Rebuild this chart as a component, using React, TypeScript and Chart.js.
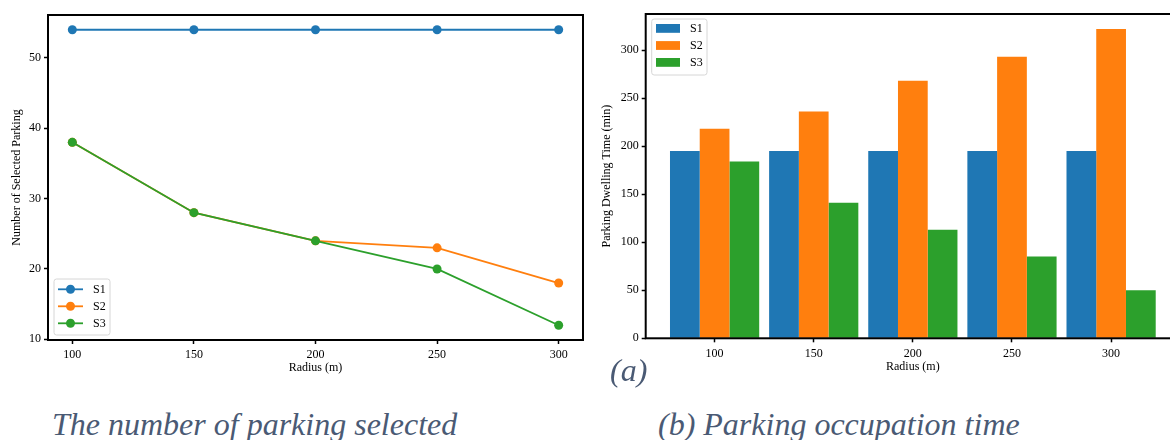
import React, { useEffect, useRef } from "react";
import { Chart, registerables } from "chart.js";

Chart.register(...registerables);

// ---- data ----
const radii = [100, 150, 200, 250, 300];
const seriesNames = ["S1", "S2", "S3"];
const seriesColors = ["#1f77b4", "#ff7f0e", "#2ca02c"];
const selectedS1 = [54, 54, 54, 54, 54];
const selectedS2 = [38, 28, 24, 23, 18];
const selectedS3 = [38, 28, 24, 20, 12];
const dwellS1 = [195, 195, 195, 195, 195];
const dwellS2 = [218, 236, 268, 293, 322];
const dwellS3 = [184, 141, 113, 85, 50];
const leftYTicks = [10, 20, 30, 40, 50];
const rightYTicks = [0, 50, 100, 150, 200, 250, 300];
const xTickValues = [100, 150, 200, 250, 300];
const captionA = "The number of parking selected";
const captionB = "(b) Parking occupation time";
const captionSub = "(a)";

const FONT = "'Liberation Serif', 'Times New Roman', serif";

const framePlugin = {
  id: "frame",
  afterDatasetsDraw(chart: any, _args: any, opts: any) {
    const { ctx, chartArea: a } = chart;
    ctx.save();
    ctx.strokeStyle = "#000";
    ctx.lineWidth = 2;
    ctx.strokeRect(a.left, a.top, a.right - a.left, a.bottom - a.top);
    ctx.restore();
  },
  afterDraw(chart: any, _args: any, opts: any) {
    const { ctx, chartArea: a } = chart;
    ctx.save();
    ctx.fillStyle = "#000";
    ctx.font = `12px ${FONT}`;
    ctx.textAlign = "center";
    ctx.textBaseline = "middle";
    // x title
    ctx.fillText(opts.xTitle, (a.left + a.right) / 2, opts.xTitleY);
    // y title
    ctx.save();
    ctx.translate(opts.yTitleX, (a.top + a.bottom) / 2);
    ctx.rotate(-Math.PI / 2);
    ctx.fillText(opts.yTitle, 0, 0);
    ctx.restore();

    // legend
    const lg = opts.legend;
    const w = lg.x1 - lg.x0;
    const h = lg.y1 - lg.y0;
    ctx.beginPath();
    const r = 2.5;
    ctx.moveTo(lg.x0 + r, lg.y0);
    ctx.arcTo(lg.x1, lg.y0, lg.x1, lg.y1, r);
    ctx.arcTo(lg.x1, lg.y1, lg.x0, lg.y1, r);
    ctx.arcTo(lg.x0, lg.y1, lg.x0, lg.y0, r);
    ctx.arcTo(lg.x0, lg.y0, lg.x1, lg.y0, r);
    ctx.closePath();
    ctx.fillStyle = "rgba(255,255,255,0.8)";
    ctx.fill();
    ctx.strokeStyle = "#d6d6d6";
    ctx.lineWidth = 1;
    ctx.stroke();
    ctx.textAlign = "left";
    seriesNames.forEach((name, i) => {
      const cy = lg.rows[i];
      const c = seriesColors[i];
      if (lg.kind === "line") {
        ctx.strokeStyle = c;
        ctx.lineWidth = 1.8;
        ctx.beginPath();
        ctx.moveTo(lg.hx0, cy);
        ctx.lineTo(lg.hx1, cy);
        ctx.stroke();
        ctx.fillStyle = c;
        ctx.beginPath();
        ctx.arc((lg.hx0 + lg.hx1) / 2, cy, 4.5, 0, Math.PI * 2);
        ctx.fill();
      } else {
        ctx.fillStyle = c;
        ctx.fillRect(lg.hx0, cy - 4.4, lg.hx1 - lg.hx0, 8.8);
      }
      ctx.fillStyle = "#000";
      ctx.fillText(name, lg.tx, cy + 0.5);
    });
    ctx.restore();
  },
};

const tickGrid = {
  display: true,
  drawOnChartArea: false,
  drawTicks: true,
  tickLength: 4,
  tickColor: "#000",
  tickWidth: 1.5,
  offset: false,
};

function LeftChart() {
  const ref = useRef<HTMLCanvasElement | null>(null);
  useEffect(() => {
    const vals = [selectedS1, selectedS2, selectedS3];
    const chart = new Chart(ref.current as HTMLCanvasElement, {
      type: "line",
      data: {
        datasets: vals.map((v, i) => ({
          label: seriesNames[i],
          data: radii.map((r, j) => ({ x: r, y: v[j] })),
          borderColor: seriesColors[i],
          backgroundColor: seriesColors[i],
          pointBackgroundColor: seriesColors[i],
          pointBorderWidth: 0,
          pointRadius: 4.5,
          borderWidth: 1.8,
          tension: 0,
          fill: false,
          order: 3 - i,
        })),
      },
      options: {
        responsive: false,
        animation: false,
        events: [],
        layout: { padding: { top: 15, right: 17, left: 0, bottom: 0 } },
        plugins: {
          legend: { display: false },
          tooltip: { enabled: false },
          frame: {
            xTitle: "Radius (m)",
            yTitle: "Number of Selected Parking",
            xTitleY: 368,
            yTitleX: 17,
            legend: {
              kind: "line",
              x0: 54, x1: 110, y0: 279, y1: 335,
              hx0: 58, hx1: 83, tx: 93,
              rows: [289.3, 306.3, 323.3],
            },
          },
        } as any,
        scales: {
          x: {
            type: "linear",
            min: 90,
            max: 310,
            afterBuildTicks: (s: any) => { s.ticks = xTickValues.map((v) => ({ value: v })); },
            afterFit: (s: any) => { s.height = 40; },
            grid: tickGrid as any,
            border: { display: false },
            ticks: { color: "#000", font: { family: FONT, size: 12 }, padding: 4, maxRotation: 0, autoSkip: false },
          },
          y: {
            type: "linear",
            min: 9.9,
            max: 56.1,
            afterBuildTicks: (s: any) => { s.ticks = leftYTicks.map((v) => ({ value: v })); },
            afterFit: (s: any) => { s.width = 48; },
            grid: tickGrid as any,
            border: { display: false },
            ticks: { color: "#000", font: { family: FONT, size: 12 }, padding: 3 },
          },
        },
      },
      plugins: [framePlugin],
    });
    return () => chart.destroy();
  }, []);
  return (
    <canvas
      ref={ref}
      width={600}
      height={380}
      style={{ position: "absolute", left: 0, top: 0, width: 600, height: 380 }}
    />
  );
}

function RightChart() {
  const ref = useRef<HTMLCanvasElement | null>(null);
  useEffect(() => {
    const vals = [dwellS1, dwellS2, dwellS3];
    const chart = new Chart(ref.current as HTMLCanvasElement, {
      type: "bar",
      data: {
        datasets: vals.map((v, i) => ({
          label: seriesNames[i],
          data: radii.map((r, j) => ({ x: r, y: v[j] })),
          backgroundColor: seriesColors[i],
          borderWidth: 0,
          categoryPercentage: 0.9,
          barPercentage: 1.0,
        })),
      },
      options: {
        responsive: false,
        animation: false,
        events: [],
        layout: { padding: { top: 14, right: 15, left: 0, bottom: 0 } },
        plugins: {
          legend: { display: false },
          tooltip: { enabled: false },
          frame: {
            xTitle: "Radius (m)",
            yTitle: "Parking Dwelling Time (min)",
            xTitleY: 366.7,
            yTitleX: 12,
            legend: {
              kind: "patch",
              x0: 56.7, x1: 112, y0: 19, y1: 75,
              hx0: 61, hx1: 85, tx: 95,
              rows: [28.4, 45.5, 62.4],
            },
          },
        } as any,
        scales: {
          x: {
            type: "linear",
            min: 65.25,
            max: 334.75,
            offset: false,
            afterBuildTicks: (s: any) => { s.ticks = xTickValues.map((v) => ({ value: v })); },
            afterFit: (s: any) => { s.height = 41.7; },
            grid: tickGrid as any,
            border: { display: false },
            ticks: { color: "#000", font: { family: FONT, size: 12 }, padding: 4, maxRotation: 0, autoSkip: false },
          },
          y: {
            type: "linear",
            min: 0,
            max: 337.5,
            afterBuildTicks: (s: any) => { s.ticks = rightYTicks.map((v) => ({ value: v })); },
            afterFit: (s: any) => { s.width = 50.7; },
            grid: tickGrid as any,
            border: { display: false },
            ticks: { color: "#000", font: { family: FONT, size: 12 }, padding: 3 },
          },
        },
      },
      plugins: [framePlugin],
    });
    return () => chart.destroy();
  }, []);
  return (
    <canvas
      ref={ref}
      width={600}
      height={380}
      style={{ position: "absolute", left: 595, top: 0, width: 600, height: 380 }}
    />
  );
}

const captionStyle: React.CSSProperties = {
  position: "absolute",
  fontFamily: FONT,
  fontStyle: "italic",
  fontSize: 32,
  lineHeight: "32px",
  color: "#4a5a74",
  whiteSpace: "nowrap",
};

export default function App() {
  return (
    <div
      style={{
        position: "absolute",
        left: 0,
        top: 0,
        width: 1170,
        height: 440,
        overflow: "hidden",
        background: "#fff",
      }}
    >
      <LeftChart />
      <RightChart />
      <div style={{ ...captionStyle, left: 610, top: 354 }}>{captionSub}</div>
      <div style={{ ...captionStyle, left: 52, top: 408 }}>{captionA}</div>
      <div style={{ ...captionStyle, left: 658, top: 408 }}>{captionB}</div>
    </div>
  );
}
